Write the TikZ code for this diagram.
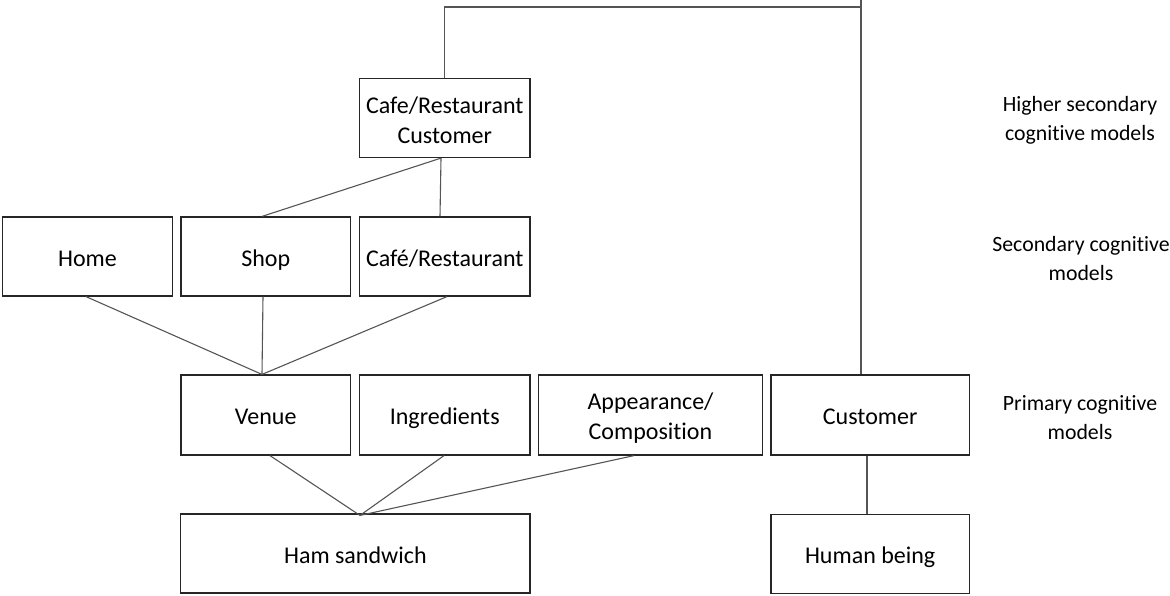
\documentclass[tikz,border=0pt]{standalone}
\usepackage{fontspec}
\setmainfont{Carlito}[Ligatures=NoCommon]
\definecolor{boxline}{HTML}{262626}
\definecolor{conn}{HTML}{555555}
\newcommand{\topstrut}{\rule{0pt}{22pt}}
\begin{document}
\begin{tikzpicture}[x=1pt,y=-1pt,
  box/.style={draw=boxline,line width=1.2pt,align=center,inner sep=0pt,
    minimum height=79pt,font=\fontsize{24}{30}\selectfont},
  one/.style={text height=19pt,text depth=0pt},
  lbl/.style={align=center,inner sep=0pt,font=\fontsize{21.8}{28.5}\selectfont},
  link/.style={draw=conn,line width=1.1pt}]
\useasboundingbox (0,0) rectangle (1170,595);
\node[box,minimum width=170.5pt] (crc) at (444.75,118) {\topstrut Cafe/Restaurant\\Customer};
\node[box,one,minimum width=170pt] (home) at (87.5,256.5) {Home};
\node[box,one,minimum width=169.5pt] (shop) at (265.75,256.5) {Shop};
\node[box,one,minimum width=170.5pt] (cafe) at (444.75,256.5) {Café/Restaurant};
\node[box,one,minimum width=169.5pt,minimum height=80pt] (venue) at (265.75,415) {Venue};
\node[box,one,minimum width=170.5pt,minimum height=80pt] (ingr) at (444.75,415) {Ingredients};
\node[box,minimum width=224.4pt,minimum height=80pt] (appr) at (650.5,415) {\topstrut Appearance/\\Composition};
\node[box,one,minimum width=198.3pt,minimum height=80pt] (cust) at (870.15,415) {Customer};
\node[box,one,minimum width=349.3pt] (ham) at (355.35,553.5) {Ham sandwich};
\node[box,one,minimum width=198.3pt] (human) at (870.15,553.6) {Human being};
\node[lbl] (l1) at (1080,117.5) {\rule{0pt}{21pt}Higher secondary\\cognitive models};
\node[lbl] (l2) at (1081,255.5) {\rule{0pt}{21pt}Secondary cognitive\\models};
\node[lbl] (l3) at (1080,414.5) {\rule{0pt}{21pt}Primary cognitive\\models};
\coordinate (tl) at (444.75,7);
\coordinate (tr) at (861,7);
\coordinate (tt) at (861,0);
\draw[link] (crc.north) -- (tl) -- (tr);
\draw[link] (tt) -- ([xshift=-9.15pt]cust.north);
\draw[link] ([xshift=-3.75pt]crc.south) -- ([xshift=-3.75pt]shop.north);
\draw[link] ([xshift=-3.75pt]crc.south) -- ([xshift=-4.75pt]cafe.north);
\draw[link] ([xshift=-1.5pt]home.south) -- ([xshift=-3.75pt]venue.north);
\draw[link] ([xshift=-2.75pt]shop.south) -- ([xshift=-3.75pt]venue.north);
\draw[link] ([xshift=2.25pt]cafe.south) -- ([xshift=-3.75pt]venue.north);
\draw[link] ([xshift=4.25pt]venue.south) -- ([xshift=4.65pt,yshift=-2pt]ham.north);
\draw[link] ([xshift=-0.75pt]ingr.south) -- ([xshift=4.65pt,yshift=-2pt]ham.north);
\draw[link] ([xshift=-16.5pt]appr.south) -- ([xshift=4.65pt,yshift=-2pt]ham.north);
\draw[link] ([xshift=-3.15pt]cust.south) -- ([xshift=-3.15pt]human.north);
\end{tikzpicture}
\end{document}
